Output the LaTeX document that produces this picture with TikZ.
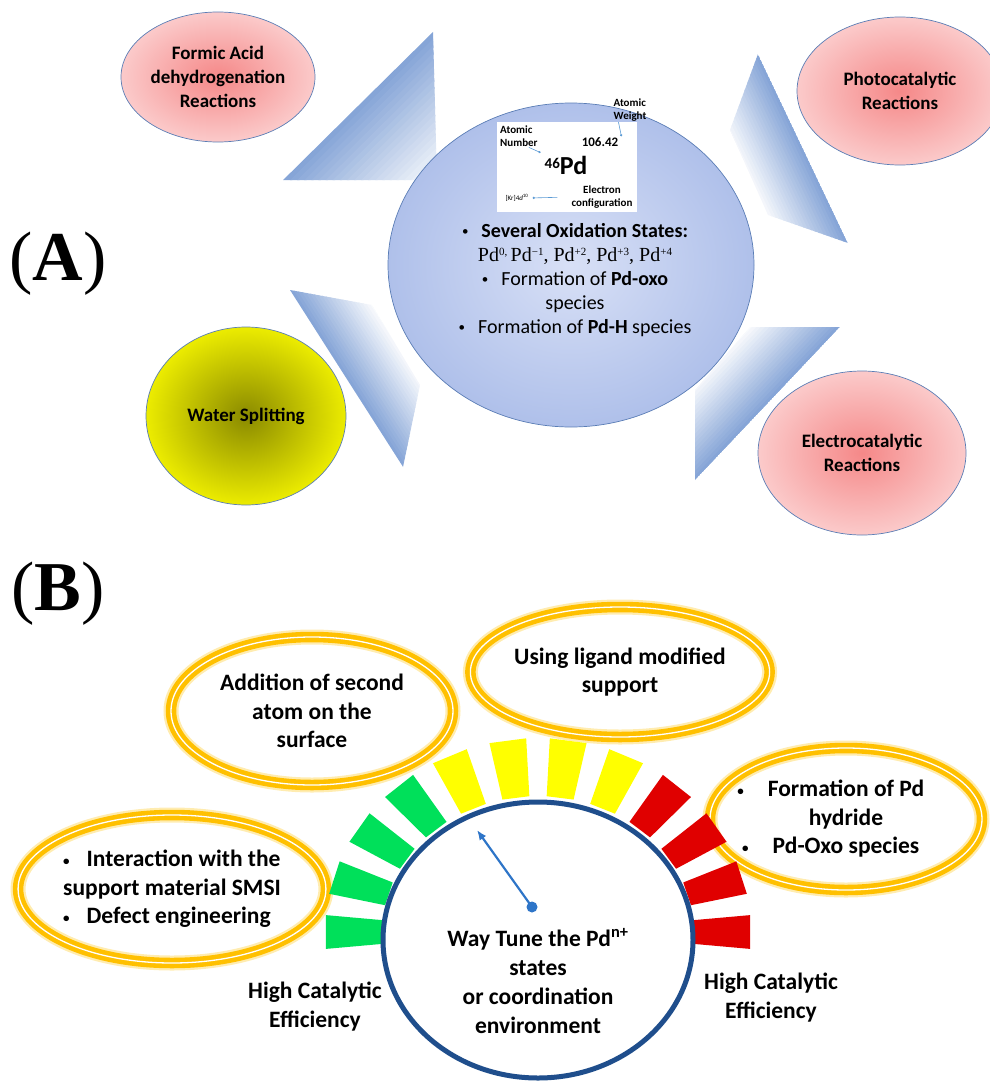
\documentclass[tikz,border=0pt]{standalone}
\usepackage{fontspec}
\setmainfont{Carlito}
\newfontfamily\romanfont{Liberation Serif}
\usetikzlibrary{shapes.geometric,arrows.meta,calc}

\definecolor{ringgold}{HTML}{FFC000}
\definecolor{glowgold}{HTML}{FFDD70}
\definecolor{edgeblue}{HTML}{5A7DB5}
\definecolor{wedgedark}{HTML}{86A5D7}
\definecolor{pinkin}{HTML}{F58888}
\definecolor{pinkout}{HTML}{FBCACA}
\definecolor{olivein}{HTML}{8A8A00}
\definecolor{yellowout}{HTML}{ECEC00}
\definecolor{ballin}{HTML}{D8E0F6}
\definecolor{ballout}{HTML}{AFC0EA}
\definecolor{gaugeblue}{HTML}{1F4E8C}
\definecolor{needleblue}{HTML}{2E75C8}
\definecolor{leaderblue}{HTML}{5B9BD5}
\definecolor{gGreen}{HTML}{00E05A}
\definecolor{gYellow}{HTML}{FFFF00}
\definecolor{gRed}{HTML}{E00000}

\newcommand\smallbul{\raisebox{1.5pt}{\fontsize{13}{13}\selectfont •}}
\newcommand\pdox[1]{Pd\raisebox{6pt}{\fontsize{11}{11}\selectfont #1}}
% strips fading from the dark edge #1--#2 in steps #3, #4 of them
\newcommand\fadestrips[4]{%
  \foreach \k in {0,...,#4}{
    \pgfmathsetmacro\p{100*(1-\k/#4)}
    \fill[wedgedark!\p!white] ($#1+\k*#3$) -- ($#2+\k*#3$) -- ($#2+\k*#3+1.3*#3$) -- ($#1+\k*#3+1.3*#3$) -- cycle;
  }}

\tikzset{
  reaction/.style={ellipse, draw=edgeblue, line width=0.7pt, inner color=pinkin, outer color=pinkout,
    align=center, inner sep=0pt, font=\fontsize{19}{24}\selectfont\bfseries},
  splitting/.style={reaction, inner color=olivein, outer color=yellowout},
  tuning/.style={ellipse, draw=ringgold, line width=4.6pt, double=white, double distance=1.3pt,
    preaction={draw=glowgold, line width=15pt, draw opacity=0.55},
    align=center, inner sep=0pt, font=\fontsize{23.5}{28.5}\selectfont\bfseries},
  cardtext/.style={inner sep=1pt, font=\fontsize{11}{12.5}\selectfont\bfseries},
  leader/.style={draw=leaderblue, line width=0.6pt, -{Circle[length=2.2pt]}},
  needle/.style={draw=needleblue, line width=2.2pt, -{Latex[length=10pt,width=8pt]}},
  efflabel/.style={align=center, font=\fontsize{23.5}{29}\selectfont\bfseries},
  panel/.style={anchor=base, font=\romanfont\fontsize{70}{70}\selectfont},
}

\begin{document}
\begin{tikzpicture}[x=1pt,y=-1pt]
\useasboundingbox (0,0) rectangle (990,1081);

% (A) Pd and its reactions
\node[panel] (lblA) at (58,280) {(\textbf{A})};

% shaded wedges pointing to the ball
\begin{scope}
  \clip (433,32) -- (283,180) -- (437,180) -- cycle;
  \fadestrips{(269,194)}{(447,18)}{(3.51,3.56)}{22}
\end{scope}
\begin{scope}
  \clip (758,54) -- (848,243) -- (768,215) -- (730,130) -- cycle;
  \fadestrips{(745,27)}{(852,252)}{(-2.71,1.29)}{21}
\end{scope}
\begin{scope}
  \clip (290,290) -- (372,305) -- (420,385) -- (403,467) -- cycle;
  \fadestrips{(279,273)}{(414,484)}{(2.53,-1.61)}{21}
\end{scope}
\begin{scope}
  \clip (750,327) -- (840,327) -- (695,480) -- (695,390) -- cycle;
  \fadestrips{(854,312)}{(681,495)}{(-2.32,-2.20)}{21}
\end{scope}

\node[ellipse, draw=edgeblue, line width=0.7pt, inner color=ballin, outer color=ballout,
  minimum width=366, minimum height=324] (ball) at (571,265) {};

\node[reaction, minimum width=194, minimum height=130] (formic) at (218,77) {Formic Acid\\dehydrogenation\\Reactions};
\node[reaction, minimum width=206, minimum height=148] (photo) at (900,91) {Photocatalytic\\Reactions};
\node[splitting, minimum width=200, minimum height=178] (water) at (246,416) {Water Splitting};
\node[reaction, minimum width=208, minimum height=164] (electro) at (862,453) {Electrocatalytic\\Reactions};

% element card
\node[fill=white, minimum width=140, minimum height=90, inner sep=0pt] (pdcard) at (567,167) {};
\node[cardtext, align=left, anchor=west] (anum) at (499,136) {Atomic\\Number};
\node[cardtext, align=left] (awt) at (630,110) {Atomic\\Weight};
\node[inner sep=1pt, font=\fontsize{13}{13}\selectfont\bfseries] (mass) at (600,142) {106.42};
\node[inner sep=1pt, font=\fontsize{26}{26}\selectfont\bfseries] (pdsym) at (566,165) {\raisebox{6pt}{\fontsize{15}{15}\selectfont 46}Pd};
\node[inner sep=1pt, font=\fontsize{7}{7}\selectfont] (econf) at (517,198) {[Kr]4\textit{d}\textsuperscript{10}};
\node[cardtext, align=center] (elec) at (602,197) {Electron\\configuration};
\draw[leader] ([xshift=-10]anum.south east) -- ([xshift=-3,yshift=2]pdsym.north west);
\draw[leader] ([xshift=6]awt.south west) -- ([xshift=2]mass.north east);
\draw[leader, shorten <=13pt, shorten >=3pt] (elec.west) -- (econf.east);

\node[align=center, font=\fontsize{20}{24}\selectfont] (states) at (575,280)
  {\smallbul\hspace{13pt}\textbf{Several Oxidation States:}\\
   {\romanfont\fontsize{20}{24}\selectfont \pdox{0,}\,\pdox{−1}, \pdox{+2}, \pdox{+3}, \pdox{+4}}\\
   \smallbul\hspace{13pt}Formation of \textbf{Pd-oxo}\\
   species\\
   \smallbul\hspace{13pt}Formation of \textbf{Pd-H} species};

% (B) tuning the Pd states
\node[panel] (lblB) at (58,610) {(\textbf{B})};

\node[tuning, minimum width=282, minimum height=148] (second) at (312,711) {Addition of second\\atom on the\\surface};
\node[tuning, minimum width=274, minimum height=130] (ligand) at (620,672) {Using ligand modified\\support};
\node[tuning, minimum width=272, minimum height=142] (hydride) at (846,819)
  {\llap{\smallbul\hspace{24pt}}Formation of Pd\\hydride\\\llap{\smallbul\hspace{24pt}}Pd-Oxo species};
\node[tuning, minimum width=288, minimum height=148, align=left] (smsi) at (172,889)
  {\smallbul\hspace{17pt}Interaction with the\\support material SMSI\\\smallbul\hspace{17pt}Defect engineering};

% gauge
\begin{scope}[shift={(538,932)}]
\foreach \i/\c in {0/gGreen,1/gGreen,2/gGreen,3/gGreen,4/gYellow,5/gYellow,6/gYellow,7/gYellow,8/gRed,9/gRed,10/gRed,11/gRed}{
  \pgfmathsetmacro\a{180+\i*180/11}
  \fill[\c] (\a-5:156 and 136) -- (\a-5:213 and 194) -- (\a+5:213 and 194) -- (\a+5:156 and 136) -- cycle;
}
\end{scope}

\node[ellipse, draw=gaugeblue, line width=5pt, fill=white, minimum width=310, minimum height=276] (tune) at (538,940) {};
\node[align=center, font=\fontsize{23.5}{29}\selectfont\bfseries] (tunetext) at (538,981)
  {Way Tune the Pd\textsuperscript{n+}\\states\\or coordination\\environment};
\node[circle, fill=needleblue, minimum size=11, inner sep=0pt] (hub) at (532,907) {};
\coordinate (tip) at (477,830);
\draw[needle] (hub.center) -- (tip);

\node[efflabel] (effleft) at (315,1007) {High Catalytic\\Efficiency};
\node[efflabel] (effright) at (771,998) {High Catalytic\\Efficiency};
\end{tikzpicture}
\end{document}
